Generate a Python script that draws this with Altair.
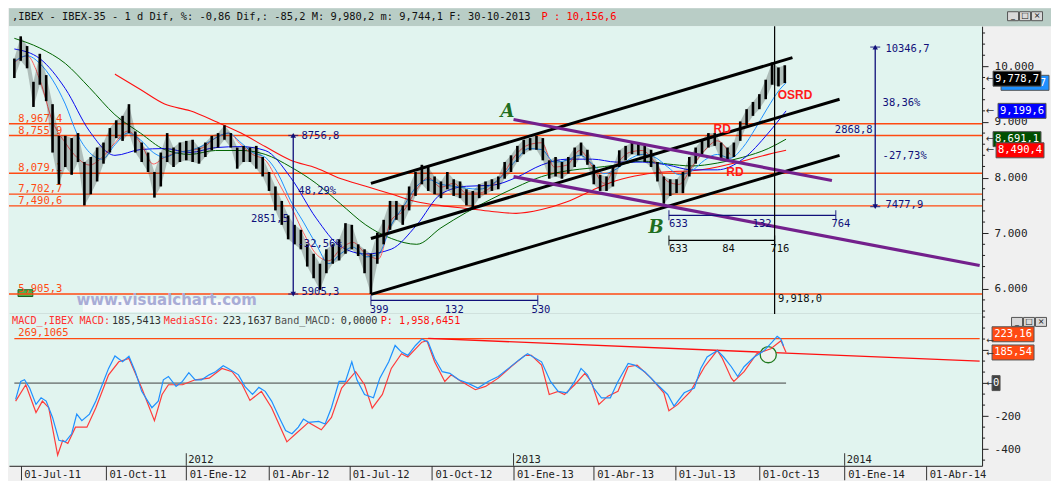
import altair as alt
import pandas as pd

# ------------------------------------------------------------------ data
HEADER_MAIN = ",IBEX - IBEX-35 -  1 d Dif, %: -0,86 Dif,: -85,2 M: 9,980,2 m: 9,744,1 F: 30-10-2013"
HEADER_P = "P : 10,156,6"
macd_header_texts = ["MACD_,IBEX MACD:", "185,5413", "MediaSIG:", "223,1637", "Band_MACD:", "0,0000", "P: 1,958,6451"]
window_glyphs = ["_", "□", "×"]

# x axis = trading-session number; date labels sit on these sessions
tick_bars = [124, 191, 254, 319, 382, 447, 511, 574, 638, 704, 771, 835]
tick_labels = ["01-Jul-11", "01-Oct-11", "01-Ene-12", "01-Abr-12", "01-Jul-12", "01-Oct-12",
               "01-Ene-13", "01-Abr-13", "01-Jul-13", "01-Oct-13", "01-Ene-14", "01-Abr-14"]
year_bars = [254, 511, 771]
year_labels = ["2012", "2013", "2014"]

# weekly high / low of the IBEX-35 (one sample every 5 sessions from session 119)
price_first_bar = 119
price_high = [10140, 10540, 10365, 9722, 10226, 9843, 9320, 8750, 8750, 8710, 8800, 8280, 8370, 8540,
              8630, 8890, 9030, 9110, 9320, 8830, 8630, 8450, 8100, 8450, 8800, 8540, 8630, 8660,
              8680, 8540, 8630, 8750, 8800, 8940, 8800, 8540, 8570, 8540, 8570, 8370, 8100, 7840,
              7580, 7320, 7150, 7060, 6800, 6630, 6450, 6710, 6800, 6890, 7180, 7150, 6800, 6710,
              6630, 7010, 7240, 7580, 7580, 7500, 7840, 8100, 8230, 8190, 8020, 7930, 8100, 7970,
              7930, 7790, 7760, 7880, 7930, 7970, 8020, 8280, 8400, 8570, 8680, 8710, 8750, 8710,
              8310, 8370, 8280, 8370, 8540, 8630, 8500, 8230, 8050, 8020, 8190, 8490, 8570, 8630,
              8630, 8570, 8500, 8280, 8020, 7970, 7970, 8100, 8370, 8540, 8680, 8800, 8800, 8630,
              8540, 8630, 9010, 9230, 9360, 9500, 9760, 10070, 9980, 10020]
price_low = [9790, 10100, 9965, 9270, 9670, 9374, 8450, 7880, 8190, 8050, 8280, 7500, 7700, 7930,
             8250, 8450, 8710, 8660, 8800, 8450, 8280, 8100, 7640, 7840, 8280, 8190, 8280, 8310,
             8280, 8250, 8370, 8490, 8540, 8680, 8540, 8160, 8280, 8280, 8160, 8020, 7760, 7410,
             7150, 6890, 6800, 6710, 6400, 6190, 5980, 6280, 6450, 6510, 6630, 6710, 6590, 6280,
             5905, 6450, 6800, 7060, 7240, 7150, 7410, 7670, 7880, 7760, 7700, 7630, 7790, 7670,
             7630, 7500, 7460, 7630, 7700, 7760, 7790, 7980, 8100, 8280, 8420, 8490, 8500, 8310,
             7980, 8020, 7980, 8070, 8190, 8400, 8230, 7880, 7760, 7760, 7840, 8190, 8310, 8420,
             8400, 8280, 8190, 7930, 7530, 7670, 7720, 7720, 8020, 8250, 8420, 8540, 8570, 8310,
             8310, 8370, 8660, 8940, 9110, 9230, 9410, 9670, 9640, 9700]

# moving averages
ma_slow_bars = [119, 139, 159, 178, 198, 218, 237, 257, 277, 297, 316, 336, 356, 375, 395, 415,
                435, 454, 474, 494, 513, 533, 553, 573, 592, 612, 632, 651, 671, 691, 711, 725]
ma_green = [10504, 10330, 10052, 9617, 9130, 8800, 8504, 8417, 8487, 8487, 8417, 8191, 7896, 7531,
            7148, 6905, 6800, 7096, 7374, 7618, 7826, 8017, 8122, 8174, 8226, 8296, 8244, 8209,
            8261, 8365, 8522, 8691.1]
ma_blue = [10313, 10139, 9600, 8835, 8400, 8504, 8522, 8452, 8539, 8557, 8487, 8000, 7270, 6765,
           6626, 6713, 7148, 7704, 7844, 7861, 8000, 8226, 8331, 8331, 8278, 8278, 8226, 8139,
           8139, 8331, 8800, 9199.6]
ma_red = [None, None, None, None, 9861, 9583, 9322, 9200, 9009, 8800, 8557, 8313, 8174, 7983,
          7844, 7704, 7565, 7496, 7444, 7391, 7357, 7426, 7565, 7774, 7948, 8052, 8104, 8122,
          8191, 8296, 8417, 8490.4]
ma_fast_bars = [119, 129, 139, 149, 159, 168, 178, 188, 198, 208, 218, 228, 237, 247, 257, 267,
                277, 287, 297, 306, 316, 326, 336, 346, 356, 366, 375, 385, 395, 405, 415, 425,
                435, 444, 454, 464, 474, 484, 494, 504, 513, 523, 533, 543, 553, 563, 573, 582,
                592, 602, 612, 622, 632, 641, 651, 661, 671, 681, 691, 701, 710, 720, 725]
ma_lightblue = [10087, 10191, 10052, 9757, 9322, 8800, 8452, 8331, 8591, 8800, 8678, 8452, 8365,
                8452, 8487, 8574, 8713, 8800, 8626, 8452, 8365, 8070, 7583, 7200, 6800, 6452,
                6626, 6748, 6574, 6626, 7148, 7496, 7844, 7965, 7878, 7844, 7809, 7791, 7878,
                8070, 8313, 8522, 8504, 8278, 8313, 8400, 8244, 8070, 8157, 8331, 8417, 8365,
                8191, 8052, 8122, 8313, 8417, 8348, 8539, 8887, 9235, 9583, 9705]
ma_lightred = [10070, 10191, 9757, 9009, 8626, 8365, 8226, 8365, 8626, 8835, 8626, 8244, 8365,
               8452, 8487, 8539, 8713, 8800, 8591, 8417, 8313, 7930, 7496, 7009, 6626, 6505,
               6713, 6835, 6626, 6539, 7235, 7409, 7791, 8000, 7826, 7896, 7722, 7722, 7844,
               8104, 8417, 8591, 8626, 8191, 8226, 8487, 8191, 7896, 8244, 8452, 8487, 8278,
               7930, 7878, 8191, 8487, 8661, 8417]

# horizontal support / resistance levels
levels = [8967.4, 8755.9, 8079.1, 7702.7, 7490.6, 5905.3]
level_label_bar = 122

# trend channels (session, value) -> (session, value)
chan_b1 = [399, 399, 399]
chan_v1 = [7896, 6905, 5900]
chan_b2 = [730, 767, 767]
chan_v2 = [10157, 9409, 8400]
purp_b1 = [511, 511]
purp_v1 = [9044, 8017]
purp_b2 = [761, 877]
purp_v2 = [7948, 6418]

# measuring tools
meas_v_bar = [338, 795]
meas_v_top = [8756.8, 10346.7]
meas_v_bot = [5905.3, 7477.9]
meas_h_start = [399, 633, 633]
meas_h_end = [530, 764, 716]
meas_h_val = [5792, 7322, 6870]
meas_h_kind = ["navy", "navy", "black"]
cursor_bar = 716

navy_texts = ["8756,8", "48,29%", "2851,5", "-32,56%", "5905,3", "10346,7", "38,36%", "2868,8",
              "-27,73%", "7477,9", "399", "132", "530", "633", "132", "764"]
navy_bars = [344.5, 342, 334.5, 341.4, 344.5, 803, 800.8, 793, 800.8, 803, 398, 457, 525, 633, 698.7, 760.6]
navy_vals = [8748, 7757, 7261, 6800, 5948, 10313, 9348, 8861, 8383, 7513, 5618, 5618, 5618, 7165, 7165, 7165]
navy_right = [False, False, True, False, False, False, False, True, False, False, False, False, False, False, False, False]
black_texts = ["633", "84", "716", "9,918,0"]
black_bars = [633, 674.8, 712.7, 718.6]
black_vals = [6713, 6713, 6713, 5818]

ab_texts = ["A", "B"]
ab_bars = [506.2, 623]
ab_vals = [9183, 7096]
rd_texts = ["RD", "RD", "OSRD"]
rd_bars = [674.8, 684.8, 732]
rd_vals = [8870, 8104, 9478]

watermark = "www.visualchart.com"
watermark_bar, watermark_val = 238.6, 5800
watermark_box = [172.8, 304.3, 5583, 5809]
mini_box = [121.9, 133.5, 5861, 5983]

# last-value boxes on the price axis (the light-blue one is mostly covered: only "7" shows)
price_box_labels = ["7", "9,778,7", "9,199,6", "8,691,1", "8,490,4"]
price_box_vals = [9704, 9778.7, 9199.6, 8691.1, 8490.4]

# MACD panel
macd_blue_bars = [120, 124, 127, 131, 136, 140, 144, 149, 154, 159, 164, 168, 172, 178, 183, 188, 193,
                  198, 204, 209, 214, 219, 227, 232, 236, 240, 246, 251, 256, 261, 266, 272, 277,
                  283, 287, 295, 300, 306, 311, 316, 321, 327, 332, 337, 342, 346, 350, 358, 363,
                  368, 374, 379, 384, 388, 394, 401, 406, 413, 418, 423, 428, 434, 439, 444, 449,
                  455, 461, 468, 475, 483, 491, 499, 507, 515, 522, 533, 540, 546, 553, 559, 564,
                  569, 574, 580, 587, 593, 601, 606, 614, 624, 632, 637, 645, 653, 658, 663, 671,
                  676, 682, 687, 692, 700, 708, 714, 718, 721, 723]
macd_blue = [-99, 10, 20, -30, -129, -89, -109, -208, -347, -356, -307, -188, -228, -188, -109, -10,
             89, 164, 129, 162, 69, -50, -149, -109, 20, 40, -20, 10, 63, 20, 20, 50, 69, 105, 89,
             50, -20, -69, -26, -50, -109, -208, -287, -307, -267, -218, -238, -232, -248, -149,
             10, 10, 129, 20, -69, -89, 30, 129, 228, 188, 168, 228, 267, 248, 149, 69, 59, 20, 0,
             -30, 10, 40, 89, 139, 178, 129, 10, -50, -59, 10, 89, 50, -30, -89, -89, 10, 119, 109,
             69, -10, -69, -139, -59, -30, 89, 158, 198, 158, 99, 40, 99, 158, 198, 248, 283, 267, 225]
macd_red_bars = [120, 128, 136, 141, 146, 153, 157, 161, 167, 176, 183, 193, 201, 209, 219, 229, 235,
                 240, 251, 261, 272, 282, 290, 298, 304, 313, 321, 333, 340, 350, 360, 368, 376, 387,
                 394, 400, 408, 415, 423, 428, 439, 443, 449, 457, 462, 470, 481, 489, 499, 509, 520,
                 525, 533, 539, 546, 551, 559, 567, 572, 578, 585, 593, 601, 608, 619, 629, 633, 640,
                 650, 661, 671, 675, 682, 684, 692, 702, 713, 721, 725]
macd_red = [-109, -10, -178, -109, -149, -436, -347, -366, -267, -267, -149, 50, 129, 149, -30, -228,
            -69, -10, -10, 20, 30, 89, 69, -10, -105, -50, -149, -356, -307, -238, -283, -208, -30,
            69, -10, -152, -69, 89, 178, 158, 248, 257, 129, 10, 50, 10, -40, -20, 30, 99, 168, 168,
            109, -69, -50, -69, -10, 59, 10, -129, -79, -50, 99, 109, 30, -59, -168, -129, -50, 99,
            198, 149, 30, 10, 69, 178, 208, 257, 186]
macd_level = 269.1065
macd_level_label = "269,1065"
macd_level_span = [119, 877]
macd_trend = [444, 271, 877, 133]
macd_zero_span = [119, 725]
macd_circle = [711, 172]
macd_box_labels = ["223,16", "185,54", "0"]
macd_box_vals = [223.16, 185.54, 0]

# ------------------------------------------------------------------ style / layout
W, H1, H2, HH = 974, 288, 152, 18
X_DOM = [114.8, 878.9]
P_DOM = [5548, 10722]
M_DOM = [-501, 419]
MONO = "DejaVu Sans Mono"
SANS = "Liberation Sans"
ORANGE = "#ff4a12"
NAVY = "#10107a"
PLOT_BG = "#e1f4ef"
HEAD_BG = "#b9cdc6"
PURPLE = "#73208c"

xs = alt.Scale(domain=X_DOM, nice=False, zero=False)
ps = alt.Scale(domain=P_DOM, nice=False, zero=False)
ms = alt.Scale(domain=M_DOM, nice=False, zero=False)

x_expr = "".join(f"datum.value == {b} ? '{l}' : " for b, l in zip(tick_bars, tick_labels)) + "''"

AX_PX = alt.Axis(labels=False, ticks=False, domain=True, domainColor="#000", title=None, grid=False)
AX_PY = alt.Axis(orient="right", values=[6000, 7000, 8000, 9000, 10000],
                 labelExpr="replace(format(datum.value, ','), ',', '.')",
                 tickSize=6, tickColor="#222", domainColor="#222", labelColor="#222",
                 labelFont=MONO, labelFontSize=11, labelPadding=6, title=None, grid=False)
AX_MX = alt.Axis(values=tick_bars, labelExpr=x_expr, tickSize=14, labelAlign="left", labelBaseline="middle",
                 labelPadding=-5, labelOffset=3, labelFlush=False, labelOverlap=False, labelBound=False,
                 labelFont=MONO, labelFontSize=10.5, labelColor="#222", tickColor="#333", domainColor="#222",
                 title=None, grid=False)
AX_MY = alt.Axis(orient="right", values=[-400, -200, 0, 200],
                 labelExpr="datum.value <= -200 ? '' + datum.value : ''",
                 tickSize=6, tickColor="#222", domainColor="#222", labelColor="#222",
                 labelFont=MONO, labelFontSize=11, labelPadding=6, title=None, grid=False)


def PX(f):
    return alt.X(f, type="quantitative", scale=xs, axis=AX_PX)


def PY(f):
    return alt.Y(f, type="quantitative", scale=ps, axis=AX_PY)


def MX(f):
    return alt.X(f, type="quantitative", scale=xs, axis=AX_MX)


def MY(f):
    return alt.Y(f, type="quantitative", scale=ms, axis=AX_MY)


def box_shape(w, h):
    r = h / w
    return f"M-1,{-r:.4f}H1V{r:.4f}H-1Z"


def fmt_level(v):
    return f"{v:,.1f}".replace(".", ",")


def window_buttons(x0, yc):
    layers = []
    for i, g in enumerate(window_glyphs):
        d = pd.DataFrame({"g": [g]})
        layers.append(alt.Chart(d).mark_point(shape=box_shape(11, 9), size=121, filled=True, fill="#d9d9d9",
                                              stroke="#555", strokeWidth=1, opacity=1).encode(
            x=alt.value(x0 + 12 * i), y=alt.value(yc)))
        layers.append(alt.Chart(d).mark_text(font="DejaVu Sans", fontSize=8, color="#111", baseline="middle").encode(
            x=alt.value(x0 + 12 * i), y=alt.value(yc), text="g:N"))
    return layers


# ------------------------------------------------------------------ header
head_df = pd.DataFrame({"t": [HEADER_MAIN], "p": [HEADER_P]})
header = alt.layer(
    alt.Chart(head_df).mark_text(align="left", baseline="middle", font=MONO, fontSize=10.4, color="#111")
    .encode(x=alt.value(3), y=alt.value(9), text="t:N"),
    alt.Chart(head_df).mark_text(align="left", baseline="middle", font=MONO, fontSize=10.4, color="#ff0000")
    .encode(x=alt.value(533), y=alt.value(9), text="p:N"),
    *window_buttons(1005, 8),
).properties(width=1043, height=HH, view=alt.ViewBackground(fill=HEAD_BG, strokeWidth=0))

# ------------------------------------------------------------------ price panel
minor_p = pd.DataFrame({"v": [v for v in range(5600, 10800, 200) if v % 1000]})
p_minor = alt.Chart(minor_p).mark_rule(color="#222").encode(
    x=alt.value(W), x2=alt.value(W + 3), y=PY("v:Q"))

lev_df = pd.DataFrame({"v": levels, "label": [fmt_level(v) for v in levels],
                       "b": [level_label_bar] * len(levels)})
lev_rules = alt.Chart(lev_df).mark_rule(color=ORANGE, strokeWidth=1.4).encode(
    x=alt.value(0), x2=alt.value(W), y=PY("v:Q"))
lev_text = alt.Chart(lev_df).mark_text(align="left", baseline="bottom", font=MONO,
                                       fontSize=10.5, color=ORANGE).encode(
    x=PX("b:Q"), y=PY("v:Q"), text="label:N")

slow_df = pd.DataFrame({"bar": ma_slow_bars, "g": ma_green, "b": ma_blue, "r": ma_red})
fast_df = pd.DataFrame({"bar": ma_fast_bars, "lb": ma_lightblue})
lr_df = pd.DataFrame({"bar": ma_fast_bars[:len(ma_lightred)], "lr": ma_lightred})


def ma_line(df, field, color, width=1.0):
    return alt.Chart(df).mark_line(color=color, strokeWidth=width, interpolate="monotone").encode(
        x=PX("bar:Q"), y=PY(f"{field}:Q"))


ma_layers = [
    ma_line(slow_df.dropna(subset=["r"]), "r", "#ff1010", 1.1),
    ma_line(slow_df, "g", "#006400", 1.0),
    ma_line(slow_df, "b", "#0a0af0", 1.0),
    ma_line(lr_df, "lr", "#ff5f5f", 1.0),
    ma_line(fast_df, "lb", "#1e90ff", 1.0),
]

price_df = pd.DataFrame({"bar": [price_first_bar + 5 * i for i in range(len(price_high))],
                         "hi": price_high, "lo": price_low})
band = alt.Chart(price_df).mark_area(color="#000", opacity=0.22).encode(
    x=PX("bar:Q"), y=PY("lo:Q"), y2="hi:Q")
bars = alt.Chart(price_df).mark_rule(color="black", strokeWidth=2.6).encode(
    x=PX("bar:Q"), y=PY("lo:Q"), y2="hi:Q")

wm_df = pd.DataFrame({"b1": [watermark_box[0]], "b2": [watermark_box[1]],
                      "v1": [watermark_box[2]], "v2": [watermark_box[3]],
                      "t": [watermark], "tb": [watermark_bar], "tv": [watermark_val]})
wm_box = alt.Chart(wm_df).mark_rect(color="#f6f9fb").encode(
    x=PX("b1:Q"), x2="b2:Q", y=PY("v1:Q"), y2="v2:Q")
wm_text = alt.Chart(wm_df).mark_text(font="DejaVu Sans", fontSize=15, fontWeight="bold",
                                     color="#a9acd6").encode(x=PX("tb:Q"), y=PY("tv:Q"), text="t:N")

mini_df = pd.DataFrame({"b1": [mini_box[0]], "b2": [mini_box[1]], "v1": [mini_box[2]], "v2": [mini_box[3]]})
mini = alt.Chart(mini_df).mark_rect(fill="#4cb04c", stroke="#1d5e1d", strokeWidth=1).encode(
    x=PX("b1:Q"), x2="b2:Q", y=PY("v1:Q"), y2="v2:Q")

chan_df = pd.DataFrame({"b1": chan_b1, "v1": chan_v1, "b2": chan_b2, "v2": chan_v2})
chan = alt.Chart(chan_df).mark_rule(color="black", strokeWidth=3).encode(
    x=PX("b1:Q"), x2="b2:Q", y=PY("v1:Q"), y2="v2:Q")
purp_df = pd.DataFrame({"b1": purp_b1, "v1": purp_v1, "b2": purp_b2, "v2": purp_v2})
purp = alt.Chart(purp_df).mark_rule(color=PURPLE, strokeWidth=3.2).encode(
    x=PX("b1:Q"), x2="b2:Q", y=PY("v1:Q"), y2="v2:Q")

mv_df = pd.DataFrame({"b": meas_v_bar, "top": meas_v_top, "bot": meas_v_bot})
mv = alt.Chart(mv_df).mark_rule(color=NAVY, strokeWidth=1.3).encode(
    x=PX("b:Q"), y=PY("bot:Q"), y2="top:Q")
mv_top = alt.Chart(mv_df).mark_point(shape="triangle-up", filled=True, size=30, color=NAVY, opacity=1).encode(
    x=PX("b:Q"), y=PY("top:Q"))
mv_bot = alt.Chart(mv_df).mark_point(shape="triangle-down", filled=True, size=30, color=NAVY, opacity=1).encode(
    x=PX("b:Q"), y=PY("bot:Q"))
mv_caps = alt.Chart(pd.DataFrame({"b": meas_v_bar * 2, "v": meas_v_top + meas_v_bot})).mark_tick(
    color=NAVY, orient="horizontal", size=10, thickness=1.3).encode(x=PX("b:Q"), y=PY("v:Q"))

mh_df = pd.DataFrame({"b1": meas_h_start, "b2": meas_h_end, "v": meas_h_val, "k": meas_h_kind})
mh_color = alt.Color("k:N", scale=alt.Scale(domain=["navy", "black"], range=[NAVY, "#000"]), legend=None)
mh = alt.Chart(mh_df).mark_rule(strokeWidth=1.3).encode(x=PX("b1:Q"), x2="b2:Q", y=PY("v:Q"), color=mh_color)
mh_ends = alt.Chart(pd.DataFrame({"b": meas_h_start + meas_h_end, "v": meas_h_val * 2,
                                  "k": meas_h_kind * 2})).mark_tick(
    orient="vertical", size=10, thickness=1.3).encode(x=PX("b:Q"), y=PY("v:Q"), color=mh_color)

cursor = alt.Chart(pd.DataFrame({"b": [cursor_bar], "v1": [P_DOM[0]], "v2": [P_DOM[1]]})).mark_rule(
    color="#000", strokeWidth=1.2).encode(x=PX("b:Q"), y=PY("v1:Q"), y2="v2:Q")

nt_df = pd.DataFrame({"t": navy_texts, "b": navy_bars, "v": navy_vals,
                      "al": ["right" if r else "left" for r in navy_right]})
nt_left = alt.Chart(nt_df[nt_df.al == "left"]).mark_text(align="left", baseline="middle", font=MONO,
                                                           fontSize=10.5, color=NAVY).encode(
    x=PX("b:Q"), y=PY("v:Q"), text="t:N")
nt_right = alt.Chart(nt_df[nt_df.al == "right"]).mark_text(align="right", baseline="middle", font=MONO,
                                                             fontSize=10.5, color=NAVY).encode(
    x=PX("b:Q"), y=PY("v:Q"), text="t:N")
bt = alt.Chart(pd.DataFrame({"t": black_texts, "b": black_bars, "v": black_vals})).mark_text(
    align="left", baseline="middle", font=MONO, fontSize=10.5, color="#111").encode(
    x=PX("b:Q"), y=PY("v:Q"), text="t:N")
ab = alt.Chart(pd.DataFrame({"t": ab_texts, "b": ab_bars, "v": ab_vals})).mark_text(
    font="DejaVu Serif", fontSize=18, fontWeight="bold", fontStyle="italic", color="#1f6e1f",
    baseline="middle").encode(x=PX("b:Q"), y=PY("v:Q"), text="t:N")
rd = alt.Chart(pd.DataFrame({"t": rd_texts, "b": rd_bars, "v": rd_vals})).mark_text(
    font=SANS, fontSize=12, fontWeight="bold", color="#ff1a1a", baseline="middle").encode(
    x=PX("b:Q"), y=PY("v:Q"), text="t:N")

pbox_colors = ["#1e90ff", "#000000", "#0000ff", "#004f00", "#ff0000"]
pbox_dx = [43, 35, 40, 35, 38]
pbox_text_dx = [18, 0, 0, 0, 0]
pbox_layers = []
for lab, val, col, dx, tdx in zip(price_box_labels, price_box_vals, pbox_colors, pbox_dx, pbox_text_dx):
    d = pd.DataFrame({"v": [val], "t": [lab]})
    pbox_layers.append(alt.Chart(d).mark_point(shape=box_shape(48, 15), size=48 * 48, filled=True,
                                               fill=col, stroke="#555", strokeWidth=1, opacity=1).encode(
        x=alt.value(W + dx), y=PY("v:Q")))
    pbox_layers.append(alt.Chart(d).mark_text(font=MONO, fontSize=10.5, color="white", baseline="middle").encode(
        x=alt.value(W + dx + tdx), y=PY("v:Q"), text="t:N"))
parrows = alt.Chart(pd.DataFrame({"v": price_box_vals[1:]})).mark_text(
    text="←", font="DejaVu Sans", fontSize=10, color="#333").encode(x=alt.value(W + 8), y=PY("v:Q"))

price = alt.layer(
    p_minor, mini, lev_rules, lev_text, *ma_layers, band, bars, wm_box, wm_text,
    chan, purp, mv, mv_caps, mv_top, mv_bot, mh, mh_ends, cursor,
    nt_left, nt_right, bt, ab, rd, *pbox_layers, parrows,
).properties(width=W, height=H1)

# ------------------------------------------------------------------ MACD panel
minor_m = pd.DataFrame({"v": [-466.7, -333.3, -266.7, -133.3, -66.7, 66.7, 133.3, 266.7, 333.3, 400]})
m_minor = alt.Chart(minor_m).mark_rule(color="#222").encode(
    x=alt.value(W), x2=alt.value(W + 3), y=MY("v:Q"))

ml_df = pd.DataFrame({"b1": [macd_level_span[0]], "b2": [macd_level_span[1]], "v": [macd_level],
                      "t": [macd_level_label], "tb": [level_label_bar]})
m_level = alt.Chart(ml_df).mark_rule(color=ORANGE, strokeWidth=1.4).encode(x=MX("b1:Q"), x2="b2:Q", y=MY("v:Q"))
m_level_t = alt.Chart(ml_df).mark_text(align="left", baseline="bottom", dy=-1, font=MONO, fontSize=10.5,
                                       color=ORANGE).encode(x=MX("tb:Q"), y=MY("v:Q"), text="t:N")
m_trend = alt.Chart(pd.DataFrame({"b1": [macd_trend[0]], "v1": [macd_trend[1]], "b2": [macd_trend[2]],
                                  "v2": [macd_trend[3]]})).mark_rule(color="#ff1010", strokeWidth=1.4).encode(
    x=MX("b1:Q"), x2="b2:Q", y=MY("v1:Q"), y2="v2:Q")
m_zero = alt.Chart(pd.DataFrame({"b1": [macd_zero_span[0]], "b2": [macd_zero_span[1]], "v": [0]})).mark_rule(
    color="#404040", strokeWidth=1).encode(x=MX("b1:Q"), x2="b2:Q", y=MY("v:Q"))
m_circle = alt.Chart(pd.DataFrame({"b": [macd_circle[0]], "v": [macd_circle[1]]})).mark_point(
    shape="circle", size=260, filled=False, fill="#eef3ee", fillOpacity=1, stroke="#1f7a1f",
    strokeWidth=1.3, opacity=1).encode(x=MX("b:Q"), y=MY("v:Q"))

mb_df = pd.DataFrame({"bar": macd_blue_bars, "v": macd_blue})
mr_df = pd.DataFrame({"bar": macd_red_bars, "v": macd_red})
m_blue = alt.Chart(mb_df).mark_line(color="#1e90ff", strokeWidth=1.2).encode(x=MX("bar:Q"), y=MY("v:Q"))
m_red = alt.Chart(mr_df).mark_line(color="#ff3b3b", strokeWidth=1.2).encode(x=MX("bar:Q"), y=MY("v:Q"))

yr_df = pd.DataFrame({"b": year_bars, "t": year_labels, "v1": [-425] * 3, "v2": [M_DOM[0]] * 3, "tv": [-466] * 3})
yr_rule = alt.Chart(yr_df).mark_rule(color="#333").encode(x=MX("b:Q"), y=MY("v1:Q"), y2="v2:Q")
yr_text = alt.Chart(yr_df).mark_text(align="left", baseline="middle", dx=2, font=MONO, fontSize=10.5,
                                     color="#222").encode(x=MX("b:Q"), y=MY("tv:Q"), text="t:N")

mh_x = [3, 103, 155, 214, 266, 332, 372]
mh_col = ["#ff3030", "#303030", "#ff3030", "#303030", "#505050", "#303030", "#ff1010"]
mhead_layers = []
for t, xx, c in zip(macd_header_texts, mh_x, mh_col):
    mhead_layers.append(alt.Chart(pd.DataFrame({"t": [t]})).mark_text(
        align="left", baseline="middle", font=MONO, fontSize=10.2, color=c).encode(
        x=alt.value(xx), y=alt.value(7), text="t:N"))

mbox_layers = []
mbox_specs = [(42, 15, "#ff4a12", 31, -12, -6), (42, 15, "#ff4a12", 31, 0, 1), (8, 15, "#404040", 14, 0, 0)]
for lab, val, (bw, bh, col, dx, dy, ady) in zip(macd_box_labels, macd_box_vals, mbox_specs):
    d = pd.DataFrame({"v": [val], "t": [lab]})
    mbox_layers.append(alt.Chart(d).mark_point(shape=box_shape(bw, bh), size=bw * bw, filled=True, fill=col,
                                               stroke="#555", strokeWidth=1, opacity=1, yOffset=dy).encode(
        x=alt.value(W + dx), y=MY("v:Q")))
    mbox_layers.append(alt.Chart(d).mark_text(font=MONO, fontSize=10.5, color="white", baseline="middle",
                                              yOffset=dy).encode(
        x=alt.value(W + dx), y=MY("v:Q"), text="t:N"))
    mbox_layers.append(alt.Chart(d).mark_text(text="←", font="DejaVu Sans", fontSize=9, color="#333",
                                              baseline="middle", yOffset=ady).encode(
        x=alt.value(W + 8), y=MY("v:Q")))

macd = alt.layer(
    m_minor, m_level, m_trend, m_zero, m_circle, m_red, m_blue, m_level_t, yr_rule, yr_text,
    *mhead_layers, *mbox_layers, *window_buttons(W + 35, 8),
).properties(width=W, height=H2)

chart = alt.VConcatChart(vconcat=[header, price, macd], spacing=0, bounds="flush").configure(
    background="#f0f0f0", padding=0
).configure_view(fill=PLOT_BG, strokeWidth=0).configure_axis(grid=False)

chart.save("out.html", embed_options={"renderer": "svg", "actions": False})
